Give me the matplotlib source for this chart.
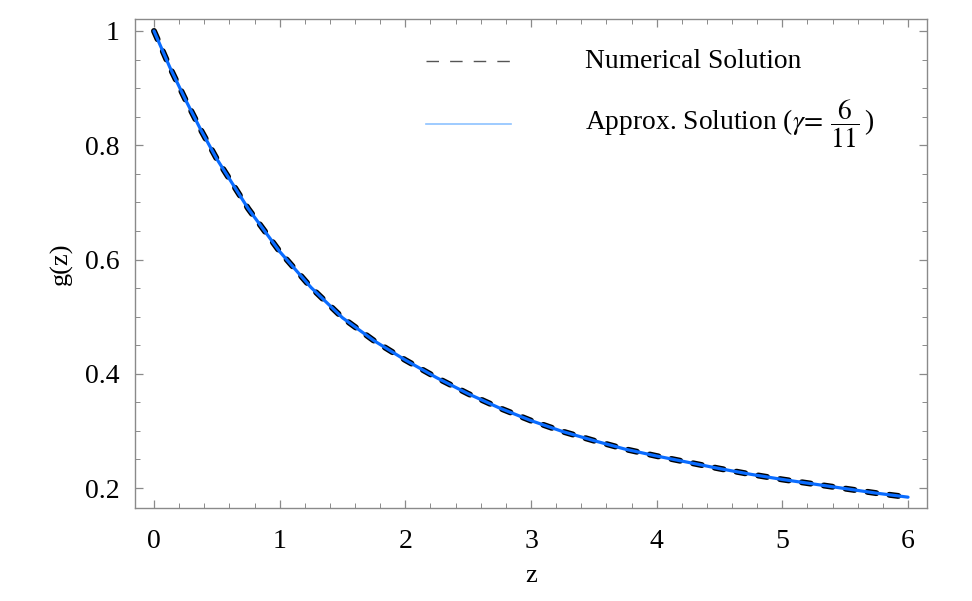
import matplotlib
matplotlib.use("Agg")
import matplotlib.pyplot as plt
from matplotlib.ticker import MultipleLocator

plt.rcParams['font.family'] = ['Liberation Serif', 'DejaVu Serif']
plt.rcParams['mathtext.fontset'] = 'stix'

z = [0.0, 0.125, 0.25, 0.375, 0.5, 0.75, 1.0, 1.25, 1.5, 1.75, 2.0, 2.25, 2.5, 2.75,
     3.0, 3.25, 3.5, 3.75, 4.0, 4.25, 4.5, 4.75, 5.0, 5.25, 5.5, 5.75, 6.0]
g_numerical = [1.0, 0.937, 0.880, 0.826, 0.776, 0.689, 0.614, 0.551, 0.498, 0.458, 0.424,
               0.393, 0.365, 0.340, 0.318, 0.299, 0.283, 0.268, 0.256, 0.245, 0.234,
               0.224, 0.215, 0.207, 0.199, 0.191, 0.184]
g_approx = list(g_numerical)

x_ticks = [0, 1, 2, 3, 4, 5, 6]
y_ticks = [0.2, 0.4, 0.6, 0.8, 1.0]
y_tick_labels = ['0.2', '0.4', '0.6', '0.8', '1']

fig = plt.figure(figsize=(9.72, 6.01), dpi=100)
ax = fig.add_axes([0.1389, 0.1547, 0.8148, 0.8137])

ax.plot(z, g_numerical, color='black', lw=4.3, dashes=(1.5, 2.2),
        dash_capstyle='round', solid_capstyle='round', zorder=2)
ax.plot(z, g_approx, color='#0a6cff', lw=2.3, solid_capstyle='round', zorder=3)

ax.set_xlim(-0.151, 6.151)
ax.set_ylim(0.165, 1.021)
ax.set_xticks(x_ticks)
ax.set_yticks(y_ticks)
ax.set_yticklabels(y_tick_labels)
ax.xaxis.set_minor_locator(MultipleLocator(0.2))
ax.yaxis.set_minor_locator(MultipleLocator(0.05))

frame_col = '#8a8a8a'
for s in ax.spines.values():
    s.set_color(frame_col)
    s.set_linewidth(1.0)
ax.tick_params(which='both', direction='in', top=True, right=True, color=frame_col,
               labelsize=20, labelcolor='black')
ax.tick_params(which='major', length=6, width=0.9)
ax.tick_params(which='minor', length=3.5, width=0.7)
ax.tick_params(axis='x', which='both', pad=15)
ax.tick_params(axis='y', which='both', pad=11)

ax.set_xlabel('z', fontsize=19, labelpad=8)
ax.set_ylabel('g(z)', fontsize=19, labelpad=9)

# legend (manual)
lx0, lx1 = 0.367, 0.475
ax.plot([lx0, lx1], [0.914, 0.914], transform=ax.transAxes, color='#555555', lw=1.0,
        dashes=(9, 8), clip_on=False)
ax.plot([lx0, lx1], [0.785, 0.785], transform=ax.transAxes, color='#8ec2ff', lw=1.2,
        clip_on=False)
ax.text(0.568, 0.914, 'Numerical Solution', transform=ax.transAxes, fontsize=19.8,
        va='center', ha='left')
ax.text(0.568, 0.785, r'Approx. Solution ($\gamma\!=\,\dfrac{6}{11}\,$)', transform=ax.transAxes,
        fontsize=19.8, va='center', ha='left')

fig.savefig('out.png', dpi=100)
